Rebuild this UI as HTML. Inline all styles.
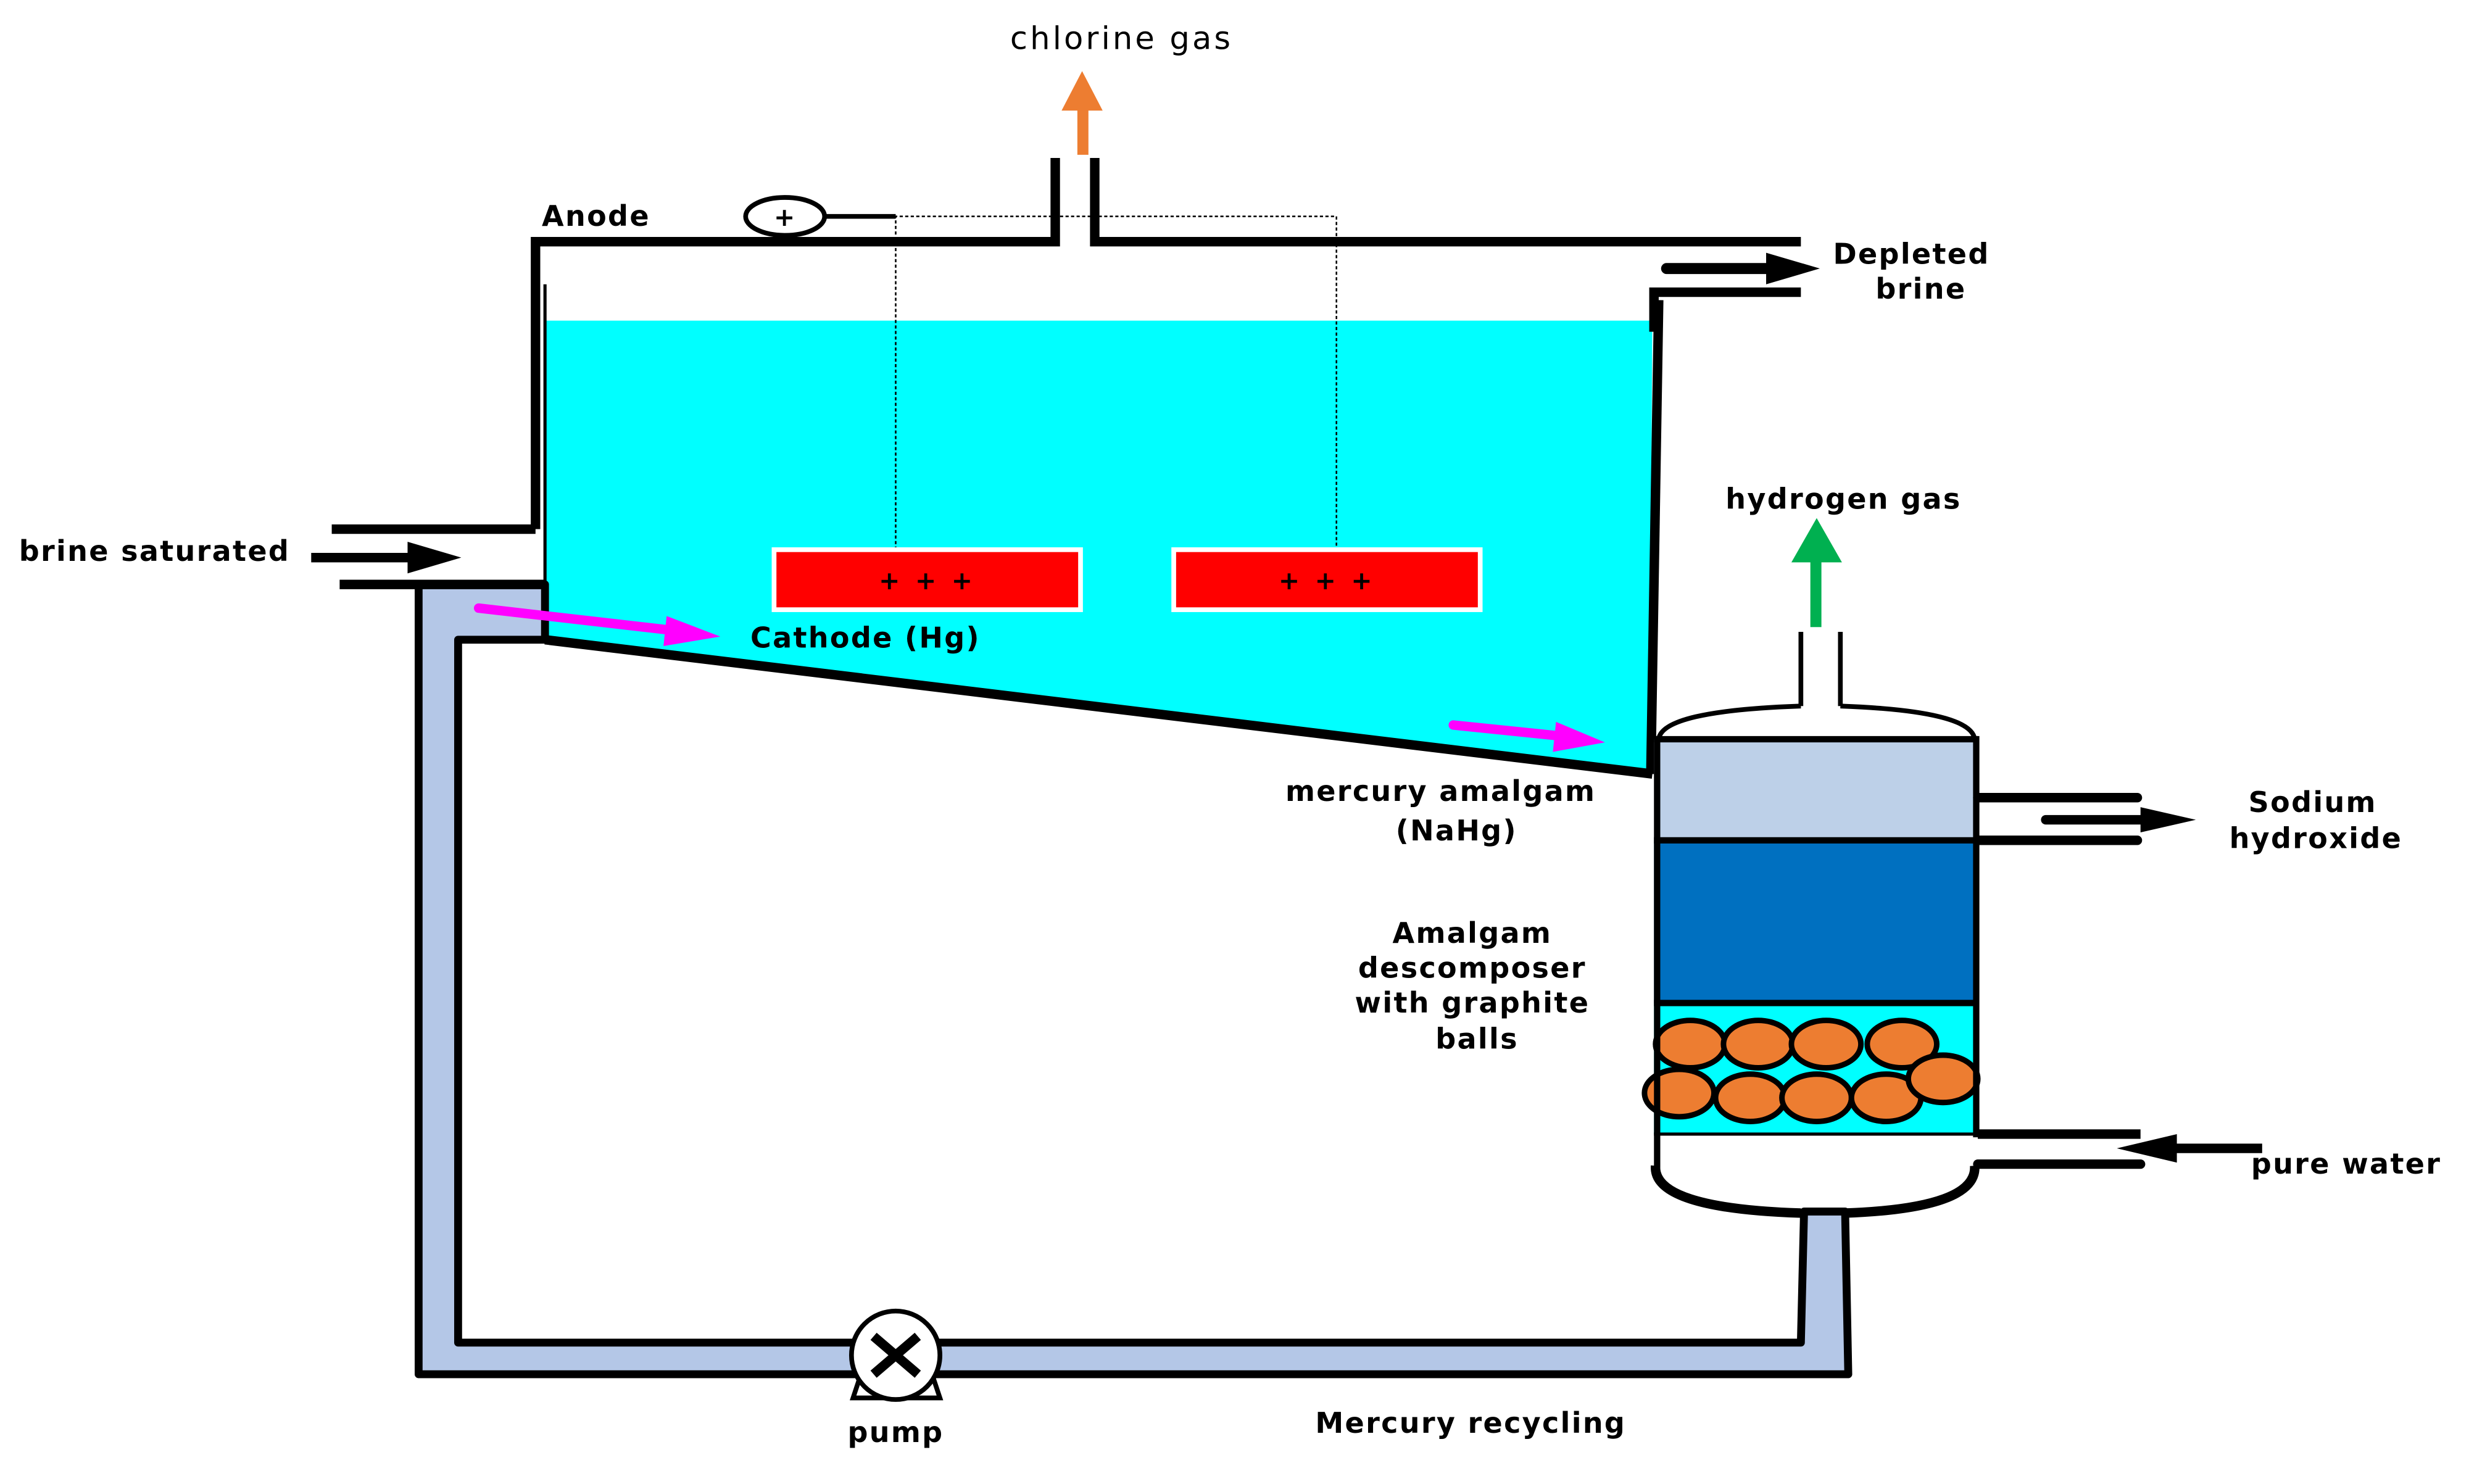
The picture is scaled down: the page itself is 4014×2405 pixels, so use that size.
<!DOCTYPE html>
<html><head><meta charset="utf-8"><style>
html,body{margin:0;padding:0;background:#fff;}
svg{display:block;}
text{font-family:"DejaVu Sans","Liberation Sans",sans-serif;font-weight:bold;font-size:18px;letter-spacing:0.9px;fill:#000;}
</style></head><body>
<svg width="4014" height="2405" viewBox="0 0 1568 939.5" preserveAspectRatio="none" xmlns="http://www.w3.org/2000/svg">
<!-- cyan brine -->
<polygon points="345,203 1046,203 1044,490 345,405" fill="#00ffff"/>
<!-- pipes light blue -->
<path d="M265,370 L345,370 L345,405 L290,405 L290,850 L1140,850 L1142,767 L1168,767 L1170,870 L265,870 Z" fill="#b4c7e7" stroke="#000" stroke-width="5" stroke-linejoin="round"/>
<!-- cathode bottom -->
<line x1="345" y1="405" x2="1046" y2="490" stroke="#000" stroke-width="6"/>
<!-- top / walls -->
<polyline points="339,335 339,153 668,153 668,100" fill="none" stroke="#000" stroke-width="6"/>
<polyline points="693,100 693,153 1140,153" fill="none" stroke="#000" stroke-width="6"/>
<line x1="345" y1="180" x2="345" y2="405" stroke="#000" stroke-width="2"/>
<polyline points="1047,210 1047,185 1140,185" fill="none" stroke="#000" stroke-width="6"/>
<line x1="1050" y1="190" x2="1045" y2="490" stroke="#000" stroke-width="6"/>
<!-- depleted arrow -->
<line x1="1055" y1="170" x2="1122" y2="170" stroke="#000" stroke-width="7" stroke-linecap="round"/>
<polygon points="1118,160 1152,170 1118,180" fill="#000"/>
<!-- brine inlet -->
<line x1="210" y1="335" x2="339" y2="335" stroke="#000" stroke-width="6"/>
<line x1="215" y1="370" x2="345" y2="370" stroke="#000" stroke-width="6"/>
<line x1="197" y1="353" x2="262" y2="353" stroke="#000" stroke-width="6"/>
<polygon points="258,343 292,353 258,363" fill="#000"/>
<!-- chlorine arrow -->
<rect x="682" y="68" width="7" height="30" fill="#ed7d31"/>
<polygon points="672,70 685,45 698,70" fill="#ed7d31"/>
<text x="710" y="31" text-anchor="middle" style="font-weight:normal;font-size:20px;letter-spacing:1.6px">chlorine gas</text>
<!-- anode -->
<ellipse cx="497" cy="137" rx="25" ry="12" fill="#fff" stroke="#000" stroke-width="3"/>
<text x="497" y="143" text-anchor="middle" style="font-size:16px">+</text>
<line x1="522" y1="137" x2="567" y2="137" stroke="#000" stroke-width="3"/>
<polyline points="567,348 567,137 846,137 846,348" fill="none" stroke="#000" stroke-width="1" stroke-dasharray="2,1.5"/>
<text x="343" y="143">Anode</text>
<!-- electrodes -->
<rect x="490" y="348" width="194" height="38" fill="#ff0000" stroke="#fff" stroke-width="3"/>
<rect x="743" y="348" width="194" height="38" fill="#ff0000" stroke="#fff" stroke-width="3"/>
<text x="587" y="373" text-anchor="middle" style="font-size:16px;letter-spacing:2px">+ + +</text>
<text x="840" y="373" text-anchor="middle" style="font-size:16px;letter-spacing:2px">+ + +</text>
<!-- magenta arrows -->
<line x1="303" y1="385" x2="425" y2="399" stroke="#ff00ff" stroke-width="6" stroke-linecap="round"/>
<polygon points="422,390 456,403 420,409" fill="#ff00ff"/>
<line x1="920" y1="459" x2="988" y2="466" stroke="#ff00ff" stroke-width="6" stroke-linecap="round"/>
<polygon points="985,457 1016,470 983,476" fill="#ff00ff"/>
<text x="475" y="410">Cathode (Hg)</text>
<!-- decomposer -->
<rect x="1047" y="468" width="205" height="64" fill="#bdd0e8"/>
<rect x="1047" y="532" width="205" height="103" fill="#0070c0"/>
<rect x="1047" y="635" width="205" height="83" fill="#00ffff"/>
<g fill="#ed7d31" stroke="#000" stroke-width="3.5">
<ellipse cx="1070" cy="661" rx="22" ry="15"/><ellipse cx="1113" cy="661" rx="22" ry="15"/><ellipse cx="1156" cy="661" rx="22" ry="15"/><ellipse cx="1204" cy="661" rx="22" ry="15"/>
<ellipse cx="1063" cy="692" rx="22" ry="15"/><ellipse cx="1108" cy="695" rx="22" ry="15"/><ellipse cx="1150" cy="695" rx="22" ry="15"/><ellipse cx="1194" cy="695" rx="22" ry="15"/><ellipse cx="1230" cy="683" rx="22" ry="15"/>
</g>
<path d="M1050,468 Q1052,450 1140,447 M1165,447 Q1248,450 1250,468" fill="none" stroke="#000" stroke-width="3"/>
<line x1="1140" y1="400" x2="1140" y2="447" stroke="#000" stroke-width="3"/>
<line x1="1165" y1="400" x2="1165" y2="447" stroke="#000" stroke-width="3"/>
<line x1="1047" y1="468" x2="1252" y2="468" stroke="#000" stroke-width="4"/>
<line x1="1047" y1="532" x2="1252" y2="532" stroke="#000" stroke-width="4"/>
<line x1="1047" y1="635" x2="1252" y2="635" stroke="#000" stroke-width="4"/>
<line x1="1047" y1="718" x2="1252" y2="718" stroke="#000" stroke-width="2"/>
<line x1="1049" y1="466" x2="1049" y2="740" stroke="#000" stroke-width="4"/>
<line x1="1251" y1="466" x2="1251" y2="720" stroke="#000" stroke-width="4"/>
<path d="M1048,738 Q1046,765 1140,768 M1168,768 Q1252,765 1250,738" fill="none" stroke="#000" stroke-width="6"/>
<!-- hydrogen -->
<rect x="1146" y="352" width="7" height="45" fill="#00b050"/>
<polygon points="1134,356 1150,328 1166,356" fill="#00b050"/>
<text x="1167" y="322" text-anchor="middle">hydrogen gas</text>
<!-- NaOH -->
<line x1="1252" y1="505" x2="1353" y2="505" stroke="#000" stroke-width="6" stroke-linecap="round"/>
<line x1="1252" y1="532" x2="1353" y2="532" stroke="#000" stroke-width="6" stroke-linecap="round"/>
<line x1="1295" y1="519" x2="1360" y2="519" stroke="#000" stroke-width="6" stroke-linecap="round"/>
<polygon points="1355,511 1390,519 1355,527" fill="#000"/>
<!-- pure water -->
<line x1="1252" y1="718" x2="1355" y2="718" stroke="#000" stroke-width="6"/>
<line x1="1252" y1="737" x2="1355" y2="737" stroke="#000" stroke-width="6" stroke-linecap="round"/>
<line x1="1375" y1="727" x2="1432" y2="727" stroke="#000" stroke-width="6"/>
<polygon points="1378,718 1340,727 1378,736" fill="#000"/>
<!-- pump -->
<path d="M545,870 L540,885 L595,885 L590,870 Z" fill="#fff" stroke="#000" stroke-width="3"/>
<circle cx="567" cy="858" r="28" fill="#fff" stroke="#000" stroke-width="3"/>
<path d="M553,846 L581,870 M581,846 L553,870" stroke="#000" stroke-width="6"/>
<!-- labels -->
<text x="1210" y="167" text-anchor="middle">Depleted</text>
<text x="1216" y="189" text-anchor="middle">brine</text>
<text x="12" y="355">brine saturated</text>
<text x="912" y="507" text-anchor="middle">mercury amalgam</text>
<text x="922" y="532" text-anchor="middle">(NaHg)</text>
<text x="932" y="597" text-anchor="middle">Amalgam</text>
<text x="932" y="619" text-anchor="middle">descomposer</text>
<text x="932" y="641" text-anchor="middle">with graphite</text>
<text x="935" y="664" text-anchor="middle">balls</text>
<text x="1464" y="514" text-anchor="middle">Sodium</text>
<text x="1466" y="537" text-anchor="middle">hydroxide</text>
<text x="1425" y="743">pure water</text>
<text x="567" y="913" text-anchor="middle">pump</text>
<text x="931" y="907" text-anchor="middle">Mercury recycling</text>
</svg>
</body></html>
